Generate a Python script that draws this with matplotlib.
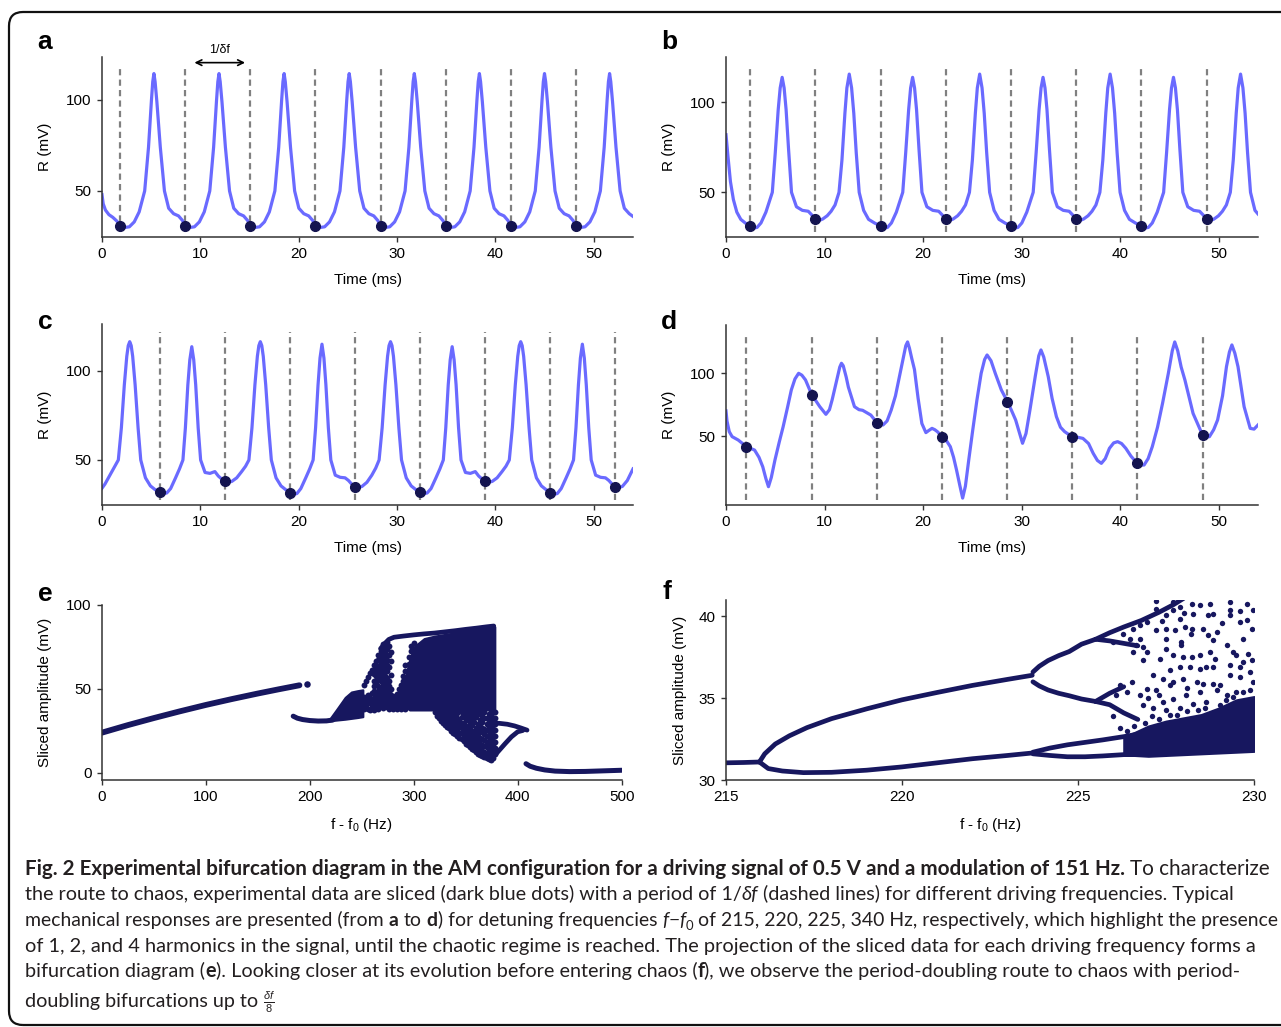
"""Sliced time traces (a-d) and bifurcation diagrams (e, f), with caption."""
import matplotlib
matplotlib.use("Agg")
import matplotlib.pyplot as plt
from matplotlib.patches import FancyBboxPatch
from matplotlib.transforms import IdentityTransform
from matplotlib.font_manager import FontProperties

plt.rcParams["font.family"] = ["Liberation Sans", "DejaVu Sans"]
plt.rcParams["mathtext.fontset"] = "custom"
plt.rcParams["mathtext.rm"] = "Liberation Sans"
plt.rcParams["mathtext.it"] = "Liberation Sans:italic"
plt.rcParams["mathtext.bf"] = "Liberation Sans:bold"

# ---------------- panel a (period 1) ----------------
t_a = [0.0, 0.12, 0.35, 0.7, 1.1, 1.5,
       1.85, 2.28, 2.78, 3.28, 3.78, 4.34, 4.73, 5.03, 5.16, 5.28, 5.40, 5.58, 5.93, 6.35, 6.78, 7.28, 7.78, 8.18,
       8.47, 8.90, 9.40, 9.90, 10.40, 10.96, 11.35, 11.65, 11.78, 11.90, 12.02, 12.20, 12.55, 12.97, 13.40, 13.90, 14.40, 14.80,
       15.09, 15.52, 16.02, 16.52, 17.02, 17.58, 17.97, 18.27, 18.40, 18.52, 18.64, 18.82, 19.17, 19.59, 20.02, 20.52, 21.02, 21.42,
       21.71, 22.14, 22.64, 23.14, 23.64, 24.20, 24.59, 24.89, 25.02, 25.14, 25.26, 25.44, 25.79, 26.21, 26.64, 27.14, 27.64, 28.04,
       28.33, 28.76, 29.26, 29.76, 30.26, 30.82, 31.21, 31.51, 31.64, 31.76, 31.88, 32.06, 32.41, 32.83, 33.26, 33.76, 34.26, 34.66,
       34.95, 35.38, 35.88, 36.38, 36.88, 37.44, 37.83, 38.13, 38.26, 38.38, 38.50, 38.68, 39.03, 39.45, 39.88, 40.38, 40.88, 41.28,
       41.57, 42.00, 42.50, 43.00, 43.50, 44.06, 44.45, 44.75, 44.88, 45.00, 45.12, 45.30, 45.65, 46.07, 46.50, 47.00, 47.50, 47.90,
       48.19, 48.62, 49.12, 49.62, 50.12, 50.68, 51.07, 51.37, 51.50, 51.62, 51.74, 51.92, 52.27, 52.69, 53.12, 53.62, 54.0]
r_a = [48.0, 43.0, 39.5, 37.0, 35.5, 33.5,
       31.0, 29.9, 30.3, 33.0, 38.5, 50.0, 74.0, 100.0, 110.0, 114.5, 110.0, 99.0, 74.0, 50.0, 40.5, 37.5, 36.3, 33.8,
       31.0, 29.9, 30.3, 33.0, 38.5, 50.0, 74.0, 100.0, 110.0, 114.5, 110.0, 99.0, 74.0, 50.0, 40.5, 37.5, 36.3, 33.8,
       31.0, 29.9, 30.3, 33.0, 38.5, 50.0, 74.0, 100.0, 110.0, 114.5, 110.0, 99.0, 74.0, 50.0, 40.5, 37.5, 36.3, 33.8,
       31.0, 29.9, 30.3, 33.0, 38.5, 50.0, 74.0, 100.0, 110.0, 114.5, 110.0, 99.0, 74.0, 50.0, 40.5, 37.5, 36.3, 33.8,
       31.0, 29.9, 30.3, 33.0, 38.5, 50.0, 74.0, 100.0, 110.0, 114.5, 110.0, 99.0, 74.0, 50.0, 40.5, 37.5, 36.3, 33.8,
       31.0, 29.9, 30.3, 33.0, 38.5, 50.0, 74.0, 100.0, 110.0, 114.5, 110.0, 99.0, 74.0, 50.0, 40.5, 37.5, 36.3, 33.8,
       31.0, 29.9, 30.3, 33.0, 38.5, 50.0, 74.0, 100.0, 110.0, 114.5, 110.0, 99.0, 74.0, 50.0, 40.5, 37.5, 36.3, 33.8,
       31.0, 29.9, 30.3, 33.0, 38.5, 50.0, 74.0, 100.0, 110.0, 114.5, 110.0, 99.0, 74.0, 50.0, 40.5, 37.5, 36.0]
slice_t_a = [1.85, 8.47, 15.09, 21.71, 28.33, 34.95, 41.57, 48.19]
slice_r_a = [31.0, 31.0, 31.0, 31.0, 31.0, 31.0, 31.0, 31.0]

# ---------------- panel b (period 2) ----------------
t_b = [0.0, 0.2, 0.45, 0.75, 1.1, 1.5, 1.95,
       2.45, 2.80, 3.15, 3.55, 4.05, 4.70, 5.00, 5.30, 5.50, 5.70, 5.90, 6.10, 6.35, 6.65, 7.15, 7.75, 8.35, 8.70,
       9.07, 9.42, 9.82, 10.27, 10.67, 11.07, 11.47, 11.77, 12.07, 12.27, 12.51, 12.75, 12.97, 13.22, 13.52, 13.97, 14.47, 15.07,
       15.69, 16.04, 16.39, 16.79, 17.29, 17.94, 18.24, 18.54, 18.74, 18.94, 19.14, 19.34, 19.59, 19.89, 20.39, 20.99, 21.59, 21.94,
       22.31, 22.66, 23.06, 23.51, 23.91, 24.31, 24.71, 25.01, 25.31, 25.51, 25.75, 25.99, 26.21, 26.46, 26.76, 27.21, 27.71, 28.31,
       28.93, 29.28, 29.63, 30.03, 30.53, 31.18, 31.48, 31.78, 31.98, 32.18, 32.38, 32.58, 32.83, 33.13, 33.63, 34.23, 34.83, 35.18,
       35.55, 35.90, 36.30, 36.75, 37.15, 37.55, 37.95, 38.25, 38.55, 38.75, 38.99, 39.23, 39.45, 39.70, 40.00, 40.45, 40.95, 41.55,
       42.17, 42.52, 42.87, 43.27, 43.77, 44.42, 44.72, 45.02, 45.22, 45.42, 45.62, 45.82, 46.07, 46.37, 46.87, 47.47, 48.07, 48.42,
       48.79, 49.14, 49.54, 49.99, 50.39, 50.79, 51.19, 51.49, 51.79, 51.99, 52.23, 52.47, 52.69, 52.94, 53.24, 53.69, 54.0]
r_b = [82.0, 70.0, 56.0, 46.0, 39.0, 35.0, 33.0,
       31.3, 30.2, 30.5, 33.0, 39.0, 50.0, 72.0, 96.0, 108.0, 113.9, 108.0, 96.0, 74.0, 50.0, 42.0, 40.0, 39.5, 37.5,
       35.0, 34.3, 35.2, 37.0, 39.5, 43.0, 50.0, 68.0, 94.0, 108.0, 115.7, 108.0, 94.0, 72.0, 50.0, 40.0, 35.0, 33.0,
       31.3, 30.2, 30.5, 33.0, 39.0, 50.0, 72.0, 96.0, 108.0, 113.9, 108.0, 96.0, 74.0, 50.0, 42.0, 40.0, 39.5, 37.5,
       35.0, 34.3, 35.2, 37.0, 39.5, 43.0, 50.0, 68.0, 94.0, 108.0, 115.7, 108.0, 94.0, 72.0, 50.0, 40.0, 35.0, 33.0,
       31.3, 30.2, 30.5, 33.0, 39.0, 50.0, 72.0, 96.0, 108.0, 113.9, 108.0, 96.0, 74.0, 50.0, 42.0, 40.0, 39.5, 37.5,
       35.0, 34.3, 35.2, 37.0, 39.5, 43.0, 50.0, 68.0, 94.0, 108.0, 115.7, 108.0, 94.0, 72.0, 50.0, 40.0, 35.0, 33.0,
       31.3, 30.2, 30.5, 33.0, 39.0, 50.0, 72.0, 96.0, 108.0, 113.9, 108.0, 96.0, 74.0, 50.0, 42.0, 40.0, 39.5, 37.5,
       35.0, 34.3, 35.2, 37.0, 39.5, 43.0, 50.0, 68.0, 94.0, 108.0, 115.7, 108.0, 94.0, 72.0, 50.0, 40.0, 38.0]
slice_t_b = [2.45, 9.07, 15.69, 22.31, 28.93, 35.55, 42.17, 48.79]
slice_r_b = [31.3, 35.0, 31.3, 35.0, 31.3, 35.0, 31.3, 35.0]

# ---------------- panel c (period 4) ----------------
t_c = [0.0, 0.3, 0.8, 1.2, 1.66, 1.97, 2.27, 2.52, 2.67, 2.82, 2.97, 3.12, 3.37, 3.67, 3.94, 4.42, 4.92, 5.42,
       5.88, 6.23, 6.58, 6.98, 7.48, 7.88, 8.23, 8.48, 8.73, 8.93, 9.13, 9.33, 9.53, 9.78, 10.03, 10.48, 10.98, 11.48, 11.83, 12.18,
       12.50, 12.80, 13.20, 13.70, 14.20, 14.60, 14.94, 15.25, 15.55, 15.80, 15.95, 16.10, 16.25, 16.40, 16.65, 16.95, 17.22, 17.70, 18.20, 18.70,
       19.12, 19.47, 19.82, 20.22, 20.72, 21.12, 21.47, 21.72, 21.97, 22.17, 22.37, 22.57, 22.77, 23.02, 23.27, 23.72, 24.22, 24.72, 25.07, 25.42,
       25.74, 26.04, 26.44, 26.94, 27.44, 27.84, 28.18, 28.49, 28.79, 29.04, 29.19, 29.34, 29.49, 29.64, 29.89, 30.19, 30.46, 30.94, 31.44, 31.94,
       32.36, 32.71, 33.06, 33.46, 33.96, 34.36, 34.71, 34.96, 35.21, 35.41, 35.61, 35.81, 36.01, 36.26, 36.51, 36.96, 37.46, 37.96, 38.31, 38.66,
       38.98, 39.28, 39.68, 40.18, 40.68, 41.08, 41.42, 41.73, 42.03, 42.28, 42.43, 42.58, 42.73, 42.88, 43.13, 43.43, 43.70, 44.18, 44.68, 45.18,
       45.60, 45.95, 46.30, 46.70, 47.20, 47.60, 47.95, 48.20, 48.45, 48.65, 48.85, 49.05, 49.25, 49.50, 49.75, 50.20, 50.70, 51.20, 51.55, 51.90,
       52.22, 52.52, 52.92, 53.42, 54.0]
r_c = [34.2, 36.5, 41.5, 45.5, 50.0, 68.0, 92.0, 108.0, 114.0, 116.2, 114.0, 108.0, 92.0, 68.0, 50.0, 40.0, 35.5, 33.3,
       32.3, 31.2, 31.5, 34.0, 40.0, 45.0, 50.0, 68.0, 92.0, 106.0, 113.4, 106.0, 92.0, 68.0, 50.0, 43.0, 42.5, 43.5, 41.0, 39.3,
       38.2, 37.5, 38.0, 40.0, 43.5, 46.5, 50.0, 68.0, 92.0, 108.0, 114.0, 116.2, 114.0, 108.0, 92.0, 68.0, 50.0, 40.0, 35.5, 33.3,
       31.7, 30.8, 31.2, 34.0, 40.0, 45.0, 50.0, 68.0, 92.0, 107.0, 114.8, 107.0, 92.0, 68.0, 50.0, 41.5, 40.3, 40.0, 38.5, 36.3,
       35.1, 34.5, 35.2, 37.5, 41.5, 45.5, 50.0, 68.0, 92.0, 108.0, 114.0, 116.2, 114.0, 108.0, 92.0, 68.0, 50.0, 40.0, 35.5, 33.3,
       32.3, 31.2, 31.5, 34.0, 40.0, 45.0, 50.0, 68.0, 92.0, 106.0, 113.4, 106.0, 92.0, 68.0, 50.0, 43.0, 42.5, 43.5, 41.0, 39.3,
       38.2, 37.5, 38.0, 40.0, 43.5, 46.5, 50.0, 68.0, 92.0, 108.0, 114.0, 116.2, 114.0, 108.0, 92.0, 68.0, 50.0, 40.0, 35.5, 33.3,
       31.7, 30.8, 31.2, 34.0, 40.0, 45.0, 50.0, 68.0, 92.0, 107.0, 114.8, 107.0, 92.0, 68.0, 50.0, 41.5, 40.3, 40.0, 38.5, 36.3,
       35.1, 34.5, 35.2, 38.5, 45.0]
slice_t_c = [5.88, 12.50, 19.12, 25.74, 32.36, 38.98, 45.60, 52.22]
slice_r_c = [32.3, 38.2, 31.7, 35.1, 32.3, 38.2, 31.7, 35.1]

# ---------------- panel d (chaotic) ----------------
t_d = [0.0, 0.1, 0.33, 0.62, 1.24, 2.07, 2.9, 3.35, 3.73, 4.05,
       4.31, 4.6, 4.97, 5.4, 5.8, 6.25, 6.63, 7.0, 7.37, 7.7,
       8.07, 8.7, 9.52, 10.14, 10.5, 10.77, 11.25, 11.55, 11.72, 11.9,
       12.2, 12.42, 13.04, 13.5, 13.87, 14.7, 15.32, 15.94, 16.35, 16.77,
       17.2, 17.6, 18.0, 18.25, 18.43, 18.62, 18.85, 19.13, 19.5, 19.88,
       20.29, 20.6, 20.91, 21.2, 21.45, 21.95, 22.4, 22.77, 23.1, 23.4,
       23.75, 24.02, 24.3, 24.64, 25.05, 25.47, 25.9, 26.25, 26.5, 26.9,
       27.33, 27.95, 28.57, 29.0, 29.4, 29.8, 30.1, 30.45, 30.85, 31.4,
       31.75, 31.97, 32.25, 32.71, 33.1, 33.54, 33.95, 34.37, 35.11, 35.7,
       36.23, 36.8, 37.27, 37.7, 38.1, 38.5, 38.92, 39.35, 39.75, 40.15,
       40.58, 41.1, 41.74, 42.1, 42.44, 42.85, 43.27, 43.8, 44.31, 44.9,
       45.3, 45.55, 45.85, 46.2, 46.58, 47.41, 48.37, 48.7, 49.07, 49.5,
       49.9, 50.4, 50.8, 51.1, 51.35, 51.65, 51.97, 52.59, 53.21, 53.6,
       54.0]
r_d = [70.0, 62.0, 53.5, 49.5, 46.8, 41.5, 38.8, 33.0, 25.5, 16.0,
       9.6, 17.0, 30.9, 45.0, 57.4, 73.0, 86.7, 95.5, 100.0, 98.5,
       94.7, 83.0, 73.4, 67.3, 71.0, 78.7, 95.0, 105.0, 108.0, 106.0,
       97.0, 89.0, 73.4, 71.0, 70.5, 66.7, 60.6, 58.8, 62.0, 70.7,
       82.0, 97.3, 113.0, 122.0, 125.0, 120.0, 112.0, 103.0, 80.0, 60.0,
       52.7, 54.5, 56.1, 55.0, 53.5, 49.5, 46.0, 41.5, 33.0, 22.9,
       10.0, 0.5, 10.0, 30.9, 55.0, 78.7, 100.0, 111.0, 114.6, 110.0,
       100.0, 86.7, 77.4, 70.0, 62.8, 52.0, 44.2, 52.0, 70.7, 98.0,
       114.0, 118.6, 113.0, 97.3, 80.0, 65.4, 57.0, 53.5, 49.5, 49.0,
       48.1, 44.0, 36.2, 30.5, 28.2, 32.0, 40.2, 44.5, 45.5, 44.0,
       40.2, 34.0, 28.2, 26.8, 26.9, 32.0, 41.5, 57.0, 76.0, 100.0,
       118.0, 125.0, 118.0, 105.0, 94.7, 68.0, 50.8, 49.0, 49.5, 55.0,
       62.8, 82.0, 105.3, 117.0, 122.6, 116.0, 105.3, 73.4, 56.1, 55.5,
       58.8]
slice_t_d = [2.07, 8.70, 15.32, 21.95, 28.57, 35.11, 41.74, 48.37]
slice_r_d = [41.5, 83.0, 60.6, 49.5, 77.4, 49.5, 28.2, 50.8]

# ---------------- panel e (full bifurcation diagram) ----------------
e_b1_hz = [0, 25, 50, 75, 100, 125, 150, 170, 190]
e_b1_mv = [24.0, 28.5, 32.7, 36.7, 40.5, 44.0, 47.3, 49.8, 52.2]
e_iso_hz = [197]
e_iso_mv = [53.2]
e_b2_hz = [184, 188, 193, 200, 208, 216, 222]
e_b2_mv = [33.8, 32.6, 31.8, 31.2, 30.9, 31.0, 31.5]
e_tri_hz = [219, 226, 234, 240, 246, 251]
e_tri_lo = [31.0, 31.5, 32.0, 32.5, 33.0, 33.5]
e_tri_hi = [32.0, 38.0, 45.0, 48.2, 49.0, 49.5]
e_blk_hz = [293, 296, 300, 310, 320, 330, 340, 350, 360, 370, 378]
e_blk_lo = [39.0, 37.5, 37.5, 37.5, 37.5, 37.0, 36.5, 36.5, 37.0, 37.5, 38.0]
e_blk_hi = [60.0, 67.0, 75.0, 80.0, 81.5, 82.5, 83.5, 84.5, 85.5, 86.3, 87.0]
e_top_hz = [268, 272, 276, 281, 290, 300, 310, 320, 330, 340, 350, 360, 370, 377]
e_top_mv = [74.0, 77.0, 79.5, 80.8, 81.5, 82.2, 82.8, 83.3, 84.0, 84.7, 85.5, 86.2, 87.0, 87.5]
e_cols_hz = [252, 254, 256, 258, 260, 262, 264, 266, 268, 270, 272, 274, 276, 278,
             280, 282, 284, 286, 288, 290, 292, 295, 297, 300,
             320, 322, 324, 326, 328, 330, 332, 334, 336, 338, 340, 342, 344, 346,
             348, 350, 352, 354, 356, 358, 360, 362, 364, 366, 368, 370, 372, 374, 376, 378]
e_cols_mv = [[38.3, 42.5, 45.5, 52.5],
             [40.0, 44.0, 55.0],
             [38.0, 42.0, 46.5, 57.0],
             [37.5, 41.5, 44.5, 59.5],
             [39.0, 43.0, 47.5, 61.5],
             [37.5, 41.0, 44.5, 48.5, 51.5, 55.0, 59.0, 64.0],
             [39.5, 43.0, 46.5, 53.5, 57.5, 62.0, 66.5],
             [38.0, 41.5, 45.5, 49.0, 52.0, 56.0, 60.0, 63.5, 67.0, 70.0],
             [40.0, 43.5, 47.0, 50.5, 54.5, 58.0, 61.5, 65.5, 69.0, 72.5],
             [38.5, 42.0, 45.0, 48.5, 52.5, 56.0, 59.5, 63.0, 66.5, 70.5, 74.0, 77.0],
             [40.0, 44.0, 47.5, 51.0, 54.5, 58.0, 62.0, 65.0, 68.5, 72.0, 76.0],
             [39.0, 42.5, 46.0, 49.5, 53.0, 56.5, 60.5, 64.0, 67.0, 70.5, 74.0, 78.0],
             [38.0, 41.0, 44.5, 48.0, 51.5, 55.0, 63.0, 70.0, 75.5],
             [39.5, 43.0, 46.5, 50.0, 58.5, 66.5, 72.0],
             [38.0, 41.5, 45.0],
             [39.0, 42.5, 46.0],
             [38.0, 41.0, 44.0, 47.0],
             [39.5, 43.0, 46.5, 50.0],
             [38.0, 41.5, 45.0, 48.5, 52.5],
             [39.5, 43.0, 47.0, 50.5, 54.5, 58.0],
             [38.0, 41.5, 45.5, 49.0, 53.0, 56.5, 60.5, 64.0],
             [65.0, 69.0],
             [68.5, 72.5, 75.5],
             [77.5],
             [36.5],
             [34.0, 37.5],
             [32.5, 35.5],
             [31.0, 34.5, 37.5],
             [30.0, 33.0, 36.0],
             [28.5, 31.5, 35.0],
             [27.5, 30.5, 34.0, 37.0],
             [26.5, 29.5, 33.0, 36.0],
             [25.0, 28.0, 31.5, 35.0],
             [24.0, 27.5, 30.5, 34.0, 37.0],
             [23.0, 26.0, 29.5, 33.0, 36.0],
             [22.0, 25.5, 28.5, 32.5, 35.5],
             [21.0, 24.0, 27.5, 31.0, 37.0],
             [20.0, 23.5, 26.5, 30.0, 33.5, 36.5],
             [19.0, 22.0, 25.5, 29.0, 35.5],
             [17.5, 21.0, 24.5, 28.0, 31.5, 34.5],
             [16.5, 20.0, 23.5, 27.5, 33.0, 36.5],
             [15.5, 19.0, 22.5, 26.0, 29.5, 35.0],
             [14.5, 18.0, 21.5, 25.0, 28.5, 32.0, 37.0],
             [13.5, 17.0, 20.5, 24.0, 30.5, 34.5],
             [12.5, 16.0, 19.5, 23.0, 26.5, 33.5, 37.0],
             [11.5, 15.0, 18.5, 22.0, 25.5, 29.0, 35.5],
             [10.5, 14.0, 17.5, 21.0, 24.5, 28.0, 31.5, 35.0],
             [10.0, 13.0, 16.5, 20.0, 27.0, 30.5, 34.0, 37.0],
             [9.5, 12.5, 16.0, 19.5, 23.0, 26.0, 33.0, 36.0],
             [9.0, 12.0, 15.5, 18.5, 22.0, 25.5, 29.0, 32.5],
             [8.5, 11.5, 14.5, 18.0, 21.5, 25.0, 28.0, 31.5, 35.0],
             [8.0, 11.0, 14.0, 17.5, 20.5, 24.0, 27.5, 31.0, 34.5, 37.5],
             [9.0, 12.5, 16.0, 19.0, 22.5, 26.0, 29.5, 33.0, 36.5],
             [11.0, 15.0, 18.5, 22.0, 25.5, 29.0, 32.5, 36.0]]
e_loopu_hz = [377, 383, 390, 397, 403, 409]
e_loopu_mv = [29.8, 29.5, 29.0, 28.0, 26.8, 25.5]
e_loopl_hz = [373.5, 378, 383, 388, 394, 400, 405]
e_loopl_mv = [7.7, 10.5, 14.0, 17.5, 21.5, 24.5, 25.3]
e_post_hz = [408, 412, 418, 426, 436, 450, 465, 480, 500]
e_post_mv = [5.5, 4.0, 2.8, 1.8, 1.1, 0.8, 0.9, 1.2, 1.6]

# ---------------- panel f (zoom on period doubling) ----------------
f_p1_hz = [215.0, 215.5, 215.95]
f_p1_mv = [31.05, 31.07, 31.1]
f_up_hz = [215.95, 216.1, 216.4, 216.8, 217.3, 218.0, 219.0, 220.0, 221.0, 222.0, 223.0, 223.7]
f_up_mv = [31.1, 31.6, 32.2, 32.7, 33.2, 33.75, 34.35, 34.9, 35.35, 35.78, 36.15, 36.4]
f_lo_hz = [215.95, 216.2, 216.6, 217.2, 218.0, 219.0, 220.0, 221.0, 222.0, 223.0, 223.7]
f_lo_mv = [31.1, 30.7, 30.55, 30.45, 30.47, 30.6, 30.8, 31.05, 31.3, 31.5, 31.65]
f_p4_hz = [223.72, 223.9, 224.15, 224.45, 224.75, 225.1, 225.5]
f_uu_mv = [36.6, 36.95, 37.3, 37.6, 37.85, 38.3, 38.6]
f_ul_mv = [36.0, 35.75, 35.5, 35.3, 35.15, 34.95, 34.8]
f_p4b_hz = [223.72, 224.2, 224.7, 225.2, 225.7, 226.3, 226.7]
f_lu_mv = [31.7, 31.95, 32.15, 32.3, 32.45, 32.65, 32.8]
f_ll_mv = [31.6, 31.5, 31.42, 31.42, 31.47, 31.55, 31.55]
f_uuu_hz = [225.5, 225.9, 226.3, 226.8, 227.3, 227.7, 228.0]
f_uuu_mv = [38.6, 39.0, 39.35, 39.75, 40.25, 40.7, 41.1]
f_uul_hz = [225.5, 225.9, 226.3, 226.7]
f_uul_mv = [38.6, 38.5, 38.35, 38.2]
f_ulu_hz = [225.5, 225.9, 226.3]
f_ulu_mv = [34.8, 35.3, 35.7]
f_ull_hz = [225.5, 225.9, 226.3, 226.7]
f_ull_mv = [34.8, 34.6, 34.1, 33.7]
f_band_hz = [226.3, 226.6, 227.0, 227.5, 228.0, 228.5, 229.0, 229.5, 230.0]
f_band_lo = [31.55, 31.5, 31.45, 31.5, 31.55, 31.6, 31.65, 31.7, 31.75]
f_band_hi = [32.65, 32.9, 33.3, 33.6, 33.8, 34.0, 34.4, 34.9, 35.1]
f_sp_hz = [227.23, 227.70, 227.89, 228.23, 228.46, 228.75, 229.31, 229.31, 229.79, 229.98,
           229.79, 229.60, 227.70, 227.51, 227.23, 227.89, 228.27, 228.70, 228.84, 229.31,
           227.23, 227.51, 227.75, 228.04, 228.23, 228.56, 228.94, 228.70, 228.84, 227.94,
           227.94, 227.51, 227.70, 227.99, 228.23, 228.46, 228.75, 229.22, 229.41, 229.50,
           229.84, 229.93, 229.69, 229.31, 228.84, 228.65, 228.46, 228.18, 227.89, 227.61,
           227.33, 226.85, 226.85, 226.76, 226.95, 226.57, 226.66, 226.47, 227.14, 227.42,
           227.70, 227.99, 228.37, 228.56, 228.84, 229.03, 229.31, 229.60, 229.88, 229.98,
           229.50, 229.22, 228.94, 228.46, 228.08, 227.70, 227.42, 227.23, 226.95, 226.76,
           226.85, 227.14, 227.51, 227.89, 228.27, 228.65, 229.03, 226.38, 226.19, 226.52,
           226.09, 226.00, 226.28, 226.57, 226.76, 226.95,
           229.60, 229.95, 229.70, 229.10, 228.20, 227.50, 228.90, 229.60, 228.00, 227.40,
           226.90, 227.10, 227.30, 227.60, 227.80, 228.10, 228.40, 228.60, 229.20, 229.40,
           229.70, 229.90, 226.60, 226.40, 226.20, 226.00, 227.00, 227.30, 227.60, 228.10]
f_sp_mv = [40.91, 40.87, 40.57, 40.77, 40.67, 40.77, 40.87, 40.37, 40.77, 40.37,
           39.76, 39.65, 40.37, 40.06, 40.47, 39.86, 40.16, 40.06, 40.16, 40.06,
           39.15, 39.25, 39.15, 39.35, 39.25, 39.25, 39.04, 38.84, 38.54, 38.43,
           38.23, 38.03, 37.62, 37.52, 37.52, 37.62, 37.82, 38.23, 37.82, 37.62,
           37.72, 37.32, 37.21, 37.01, 36.91, 36.91, 36.81, 36.91, 36.91, 36.71,
           37.42, 37.32, 38.13, 38.64, 37.82, 37.82, 38.23, 38.64, 36.40, 36.20,
           36.00, 36.20, 36.00, 35.89, 35.89, 35.79, 36.40, 36.30, 36.60, 36.00,
           35.39, 35.18, 35.49, 35.39, 35.18, 34.98, 34.78, 35.49, 35.59, 35.18,
           34.57, 34.37, 34.27, 34.37, 34.67, 34.78, 34.57, 35.39, 35.79, 36.00,
           35.18, 38.43, 38.94, 39.25, 39.45, 39.65,
           40.30, 39.20, 38.60, 39.60, 38.90, 38.60, 37.40, 36.90, 40.20, 39.70,
           33.50, 33.90, 33.70, 34.00, 33.95, 34.20, 34.30, 34.40, 34.90, 35.10,
           35.40, 35.50, 33.30, 33.00, 33.20, 33.90, 35.00, 35.20, 35.80, 35.60]

# ---------------- drawing ----------------
W, H = 1281, 1027
CURVE = "#6a6aff"
DOT = "#14144f"
NAVY = "#17175f"
DASH = "#808080"
SPINE = "#333333"

fig = plt.figure(figsize=(W / 100, H / 100), dpi=100)


def px_axes(l, t, r, b):
    return fig.add_axes([l / W, 1 - b / H, (r - l) / W, (b - t) / H])


def style(ax):
    for s in ("top", "right"):
        ax.spines[s].set_visible(False)
    for s in ("left", "bottom"):
        ax.spines[s].set_linewidth(1.1)
        ax.spines[s].set_color(SPINE)
    ax.tick_params(direction="out", length=3.5, width=1, color=SPINE,
                   labelsize=11, pad=4)


def trace_panel(ax, t, r, st, sr, ylim):
    style(ax)
    for x in st:
        ax.axvline(x, ymin=0.028, ymax=0.955, color=DASH, lw=1.6,
                   ls=(0, (2.8, 1.9)), zorder=1)
    ax.plot(t, r, color=CURVE, lw=2.3, zorder=2, solid_joinstyle="round")
    ax.plot(st, sr, "o", color=DOT, ms=7, zorder=3)
    ax.set_xlim(0, 54)
    ax.set_ylim(*ylim)
    ax.set_xticks([0, 10, 20, 30, 40, 50])
    ax.set_yticks([50, 100])
    ax.set_xlabel("Time (ms)", fontsize=11, labelpad=8)
    ax.set_ylabel("R (mV)", fontsize=11, labelpad=10)


ax_a = px_axes(102, 57, 633, 237)
trace_panel(ax_a, t_a, r_a, slice_t_a, slice_r_a, (24.7, 123.6))
ax_a.annotate("", xy=(9.4, 120.5), xytext=(14.55, 120.5),
              arrowprops=dict(arrowstyle="<->", lw=1.2, color="black",
                              shrinkA=0, shrinkB=0), annotation_clip=False)
ax_a.text(12.0, 127.5, "1/δf", ha="center", va="center", fontsize=9, clip_on=False)

ax_b = px_axes(726, 57, 1258, 237)
trace_panel(ax_b, t_b, r_b, slice_t_b, slice_r_b, (25.2, 125.2))

ax_c = px_axes(102, 324, 633, 505)
trace_panel(ax_c, t_c, r_c, slice_t_c, slice_r_c, (24.8, 126.1))

ax_d = px_axes(726, 325, 1258, 505)
trace_panel(ax_d, t_d, r_d, slice_t_d, slice_r_d, (-5.0, 138.5))

# panel e
ax_e = px_axes(102, 605, 621.6, 780)
style(ax_e)
ax_e.plot(e_b1_hz, e_b1_mv, color=NAVY, lw=4.2, solid_capstyle="round")
ax_e.scatter(e_iso_hz, e_iso_mv, s=22, color=NAVY, lw=0)
ax_e.plot(e_b2_hz, e_b2_mv, color=NAVY, lw=3.6, solid_capstyle="round")
ax_e.fill_between(e_tri_hz, e_tri_lo, e_tri_hi, color=NAVY, lw=1.5, edgecolor=NAVY)
ax_e.fill_between(e_blk_hz, e_blk_lo, e_blk_hi, color=NAVY, lw=1.5, edgecolor=NAVY)
ax_e.plot(e_top_hz, e_top_mv, color=NAVY, lw=3.4, solid_capstyle="round")
e_pts_hz = [h for h, col in zip(e_cols_hz, e_cols_mv) for _ in col]
e_pts_mv = [v for col in e_cols_mv for v in col]
ax_e.scatter(e_pts_hz, e_pts_mv, s=18, color=NAVY, lw=0)
ax_e.plot(e_loopu_hz, e_loopu_mv, color=NAVY, lw=3.4, solid_capstyle="round")
ax_e.plot(e_loopl_hz, e_loopl_mv, color=NAVY, lw=3.4, solid_capstyle="round")
ax_e.plot(e_post_hz, e_post_mv, color=NAVY, lw=3.6, solid_capstyle="round")
ax_e.set_xlim(0, 500)
ax_e.set_ylim(-4.2, 100)
ax_e.set_xticks([0, 100, 200, 300, 400, 500])
ax_e.set_yticks([0, 50, 100])
ax_e.set_xlabel(r"f - f$\mathregular{_0}$ (Hz)", fontsize=11, labelpad=8)
ax_e.set_ylabel("Sliced amplitude (mV)", fontsize=11, labelpad=10)

# panel f
ax_f = px_axes(726, 600, 1254, 780)
style(ax_f)
for hz, mv in [(f_p1_hz, f_p1_mv), (f_up_hz, f_up_mv), (f_lo_hz, f_lo_mv),
               (f_p4_hz, f_uu_mv), (f_p4_hz, f_ul_mv), (f_p4b_hz, f_lu_mv),
               (f_p4b_hz, f_ll_mv), (f_uuu_hz, f_uuu_mv), (f_uul_hz, f_uul_mv),
               (f_ulu_hz, f_ulu_mv), (f_ull_hz, f_ull_mv)]:
    ax_f.plot(hz, mv, color=NAVY, lw=3.4, solid_capstyle="round")
ax_f.fill_between(f_band_hz, f_band_lo, f_band_hi, color=NAVY, lw=1.5, edgecolor=NAVY)
ax_f.scatter(f_sp_hz, f_sp_mv, s=15, color=NAVY, lw=0)
ax_f.set_xlim(215, 230)
ax_f.set_ylim(30, 41)
ax_f.set_xticks([215, 220, 225, 230])
ax_f.set_yticks([30, 35, 40])
ax_f.set_xlabel(r"f - f$\mathregular{_0}$ (Hz)", fontsize=11, labelpad=8)
ax_f.set_ylabel("Sliced amplitude (mV)", fontsize=11, labelpad=8)

# panel letters
for letter, (x, y) in zip("abcdef", [(45, 42), (669, 42), (45, 322),
                                     (669, 322), (45, 594), (667, 592)]):
    fig.text(x / W, 1 - y / H, letter, fontsize=19, fontweight="bold",
             ha="center", va="center")

# rounded frame around the whole figure
fig.add_artist(FancyBboxPatch((9, 2), 1300, 1013,
                              boxstyle="round,pad=0,rounding_size=14",
                              fill=False, lw=1.6, ec="#111111",
                              transform=IdentityTransform()))

# ---------------- caption ----------------
cap_lines = [
    [("Fig. 2 Experimental bifurcation diagram in the AM configuration for a driving "
      "signal of 0.5 V and a modulation of 151 Hz.", "B"), (" To characterize", "R")],
    [("the route to chaos, experimental data are sliced (dark blue dots) with a period of 1/", "R"),
     ("δf", "I"), (" (dashed lines) for different driving frequencies. Typical", "R")],
    [("mechanical responses are presented (from ", "R"), ("a", "B"), (" to ", "R"), ("d", "B"),
     (") for detuning frequencies ", "R"), ("f", "I"), ("−", "R"), ("f", "I"), ("0", "S"),
     (" of 215, 220, 225, 340 Hz, respectively, which highlight the presence", "R")],
    [("of 1, 2, and 4 harmonics in the signal, until the chaotic regime is reached. "
      "The projection of the sliced data for each driving frequency forms a", "R")],
    [("bifurcation diagram (", "R"), ("e", "B"),
     ("). Looking closer at its evolution before entering chaos (", "R"), ("f", "B"),
     ("), we observe the period-doubling route to chaos with period-", "R")],
    [("doubling bifurcations up to ", "R"), (r"$\frac{\delta f}{8}$", "M")],
]
cap_base = [875, 900, 926, 952, 977, 1007]
cap_right = [1277, 1237, 1279, 1259, 1246]
CAP_FAMILY = ["Lato", "DejaVu Sans"]
CAP_COLOR = "#231f20"

renderer = fig.canvas.get_renderer()


def cap_prop(kind, size):
    if kind == "B":
        return FontProperties(family=CAP_FAMILY, size=size, weight="bold")
    if kind == "I":
        return FontProperties(family=CAP_FAMILY, size=size, style="italic")
    if kind == "S":
        return FontProperties(family=CAP_FAMILY, size=size * 0.68)
    return FontProperties(family=CAP_FAMILY, size=size)


def advance(s, prop, math=False):
    if math:
        return renderer.get_text_width_height_descent(s, prop, ismath=True)[0]
    w1 = renderer.get_text_width_height_descent("|" + s + "|", prop, ismath=False)[0]
    w0 = renderer.get_text_width_height_descent("||", prop, ismath=False)[0]
    return w1 - w0


def line_width(runs, size):
    return sum(advance(s, cap_prop(k, size), k == "M") for s, k in runs)


# each wrapped line is sized so that it ends where the reference line ends
sizes = [14.0 * (xr - 25) / line_width(runs, 14.0)
         for runs, xr in zip(cap_lines[:5], cap_right)]
sizes.append(sum(sizes[1:5]) / 4)

for runs, yb, size in zip(cap_lines, cap_base, sizes):
    x = 25.0
    for s, kind in runs:
        prop = cap_prop(kind, size)
        if kind == "M":
            fig.text(x / W, 1 - yb / H, s, fontsize=size * 0.8,
                     ha="left", va="baseline", color=CAP_COLOR)
            x += advance(s, FontProperties(size=size * 0.8), True)
            continue
        lead = s[: len(s) - len(s.lstrip())]
        dy = 4 if kind == "S" else 0
        fig.text((x + advance(lead, prop)) / W, 1 - (yb + dy) / H, s.strip(),
                 fontproperties=prop, ha="left", va="baseline", color=CAP_COLOR)
        x += advance(s, prop)

fig.savefig("out.png", dpi=100)
